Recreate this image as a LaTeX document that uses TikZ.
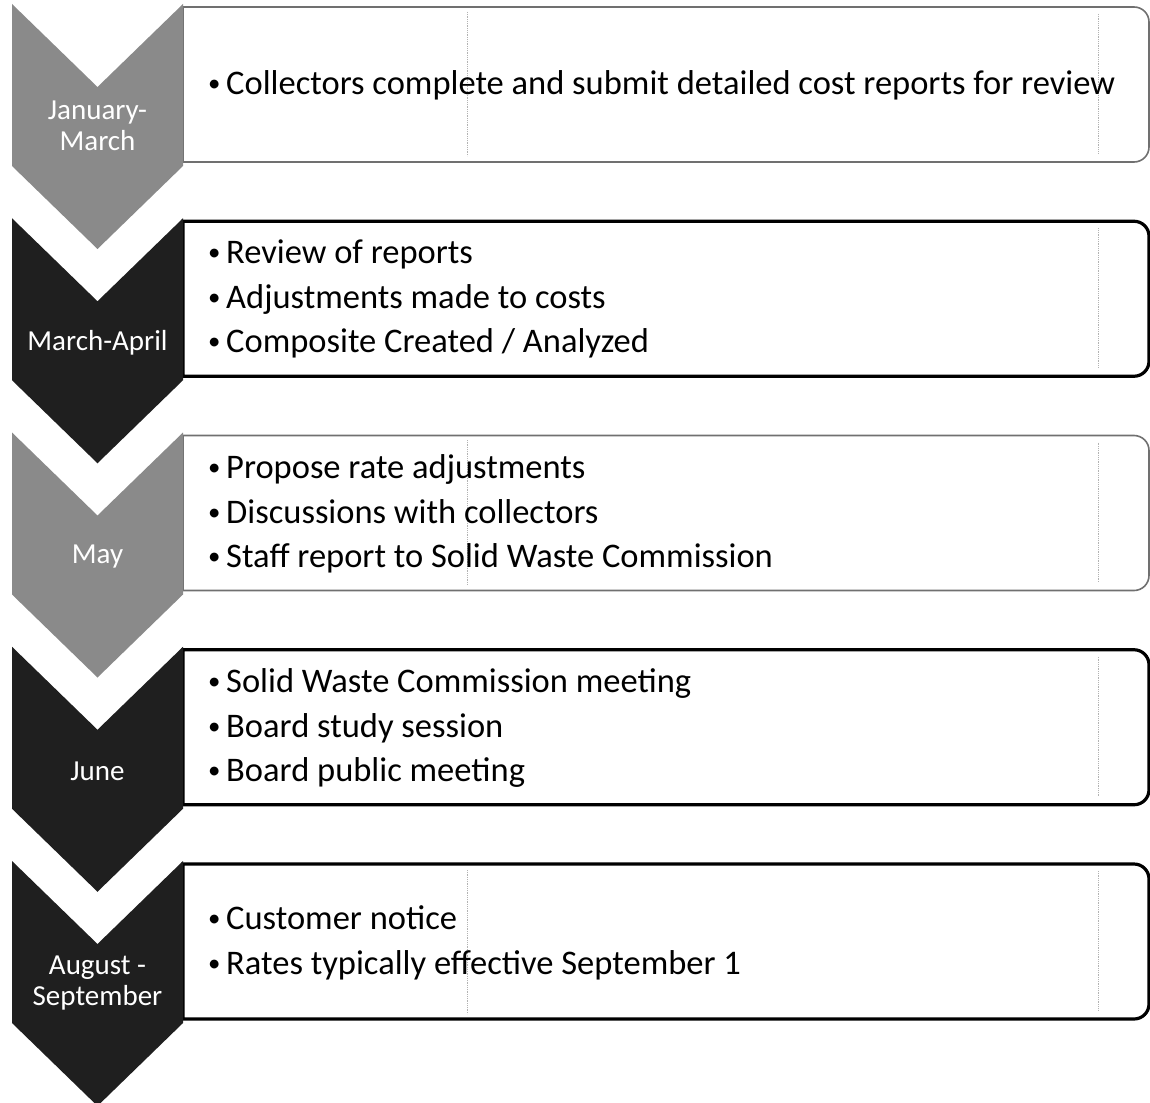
\documentclass[tikz,border=0pt]{standalone}
\usepackage{graphicx}
\usepackage{fontspec}
\setmainfont{Carlito}
\definecolor{chevgris}{HTML}{8A8A8A}
\definecolor{chevnoir}{HTML}{1F1F1F}
\definecolor{traitgris}{HTML}{707070}
\newcommand{\puce}{\makebox[21pt][l]{\hspace{3pt}\raisebox{3pt}{\scalebox{0.72}{\textbullet}}}}

\begin{document}
\begin{tikzpicture}[x=1pt,y=-1pt]
  \tikzstyle{mois}=[text=white,align=center,inner sep=0pt,font=\fontsize{29}{31}\selectfont]
  \tikzstyle{liste}=[anchor=west,align=left,inner sep=0pt,font=\fontsize{34.5}{44.5}\selectfont]
  \tikzstyle{cadregris}=[draw=traitgris,line width=1.6pt,fill=white]
  \tikzstyle{cadrenoir}=[draw=black,line width=3.2pt,fill=white]
  \tikzstyle{repere}=[gray!60,densely dotted,line width=0.8pt]
  % Format de la page
  \useasboundingbox (0,0) rectangle (1150,1102);
  % Cadres (arrondis a droite) puis chevrons
  \foreach \i/\c/\f in {0/gris/chevgris,1/noir/chevnoir,2/gris/chevgris,3/noir/chevnoir,4/noir/chevnoir}{
    \pgfmathsetmacro{\h}{4+214.25*\i}
    \draw[cadre\c] (183,\h+3) -- (1134,\h+3) arc[start angle=90,end angle=0,radius=15pt]
      -- (1149,\h+143) arc[start angle=0,end angle=-90,radius=15pt] -- (183,\h+158) -- cycle;
    \draw[repere] (1098,\h+10) -- (1098,\h+150);   % trait de repere
    \fill[\f] (12,\h) -- (97.5,\h+83) -- (183,\h) -- (183,\h+162) -- (97.5,\h+245) -- (12,\h+162) -- cycle;
  }
  % Reperes verticaux des cadres gris
  \draw[repere] (467,12) -- (467,156);
  \draw[repere] (467,440) -- (467,585);
  \draw[repere] (467,870) -- (467,1014);
  % Mois
  \node[mois] (jan) at (97.5,126) {January-\\March};
  \node[mois] (mar) at (97.5,343) {March-April};
  \node[mois] (mai) at (97.5,557) {May};
  \node[mois] (juin) at (97.5,771) {June};
  \node[mois] (aout) at (97.5,983) {August -\\September};
  % Listes
  \node[liste] (l1) at (205,85) {\puce Collectors complete and submit detailed cost reports for review};
  \node[liste] (l2) at (205,299) {\puce Review of reports\\\puce Adjustments made to costs\\\puce Composite Created / Analyzed};
  \node[liste] (l3) at (205,514) {\puce Propose rate adjustments\\\puce Discussions with collectors\\\puce Staff report to Solid Waste Commission};
  \node[liste] (l4) at (205,728) {\puce Solid Waste Commission meeting\\\puce Board study session\\\puce Board public meeting};
  \node[liste] (l5) at (205,943) {\puce Customer notice\\\puce Rates typically effective September 1};
\end{tikzpicture}
\end{document}
